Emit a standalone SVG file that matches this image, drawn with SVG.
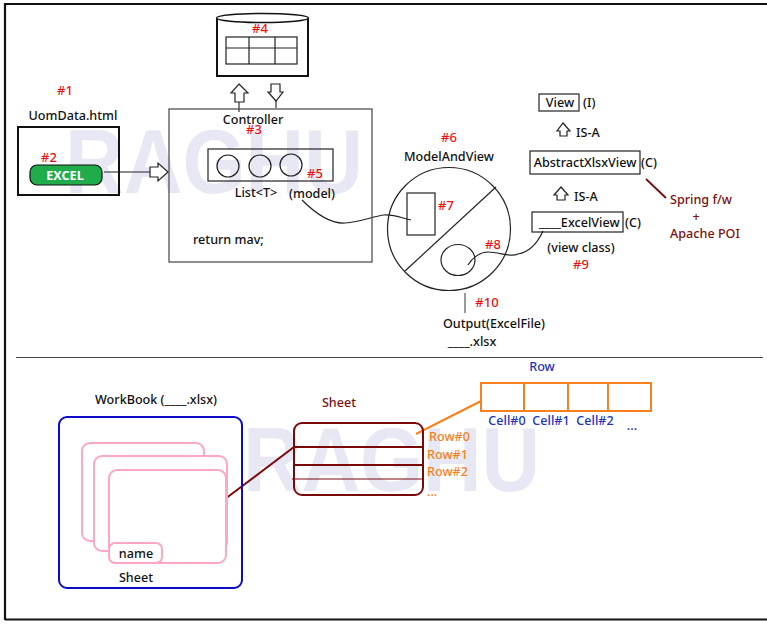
<svg xmlns="http://www.w3.org/2000/svg" width="767" height="625" viewBox="0 0 767 625">
<style>
text{font-family:"Noto Sans","DejaVu Sans",sans-serif;font-size:12.6px;font-weight:500;fill:#111}
.c{text-anchor:middle}
.r{fill:#f01010;font-size:13px}
.m{fill:#7a1010}
.o{fill:#f5801e}
.b{fill:#2233bb}
.wm{font-family:"Liberation Sans",sans-serif;font-size:90px;font-weight:700;fill:#e8e8f5}
.k{fill:none;stroke:#222;stroke-width:1.2}
.s{fill:#fff;stroke:#222;stroke-width:1.2}
.t{fill:none;stroke:#111;stroke-width:2}
.p{fill:#fff;stroke:#ffa6c4;stroke-width:2}
.mr{fill:none;stroke:#7a0a0a;stroke-width:2}
.or{fill:none;stroke:#f8801e;stroke-width:2}
</style>
<rect width="767" height="625" fill="#fff"/>
<g id="frame"><path d="M5 620V4H767M5 619.500H767" fill="none" stroke="#111" stroke-width="2.200"/><path d="M16 357.500H763" stroke="#444" stroke-width="1.200"/></g>
<g id="watermarks"><text class="wm" x="65" y="193" textLength="298" lengthAdjust="spacingAndGlyphs">RAGHU</text><text class="wm" x="243" y="491" textLength="297" lengthAdjust="spacingAndGlyphs">RAGHU</text></g>
<g id="connectors">
<path class="k" d="M302 200C315 213 330 224 345 223C360 222 375 216 384 215S402 218 411 220"/>
<path class="k" d="M468 265C472 258 480 252 488 252C500 252 510 258 518 254C530 252 538 242 543 231"/>
<path d="M104 172H150" stroke="#666" stroke-width="1.500"/>
<path class="s" d="M150 167H158V163L168 172L158 181V177H150Z"/>
<path class="s" d="M239 84L248 93H244V102H235V93H231Z"/>
<path d="M239 102V112M276 101V108" stroke="#333" stroke-width="1.200"/>
<path class="s" d="M271 84H280V92H283L276 101L268 92H271Z"/>
<path class="s" d="M563 123L570 131H567V136H560V131H557Z"/>
<path class="s" d="M561 187L568 195H565V200H557V195H554Z"/>
<path d="M646 179L666 198" stroke="#7a0a0a" stroke-width="1.800"/>
<path d="M465 293V313" stroke="#777" stroke-width="1.500"/>
<path class="mr" d="M225 499L294 447"/>
<path class="or" d="M416 434L481 401"/>
</g>
<g id="n1"><text class="r c" x="65" y="95">#1</text><text class="c" x="73" y="120">UomData.html</text></g>
<g id="n2"><rect x="18" y="127" width="101" height="68" fill="none" stroke="#111" stroke-width="2"/><rect x="30" y="165" width="72" height="20" rx="7" fill="#20ac4b" stroke="#111" stroke-width="1.200"/><text class="c" x="65" y="180" style="fill:#fff;font-weight:700">EXCEL</text><text class="r c" x="49" y="162">#2</text></g>
<g id="n3"><rect x="169" y="109" width="203" height="153" fill="none" stroke="#444" stroke-width="1.200"/><text class="c" x="253" y="124">Controller</text><text class="r c" x="254" y="134">#3</text><text x="193" y="244">return mav;</text></g>
<g id="n4"><path class="t" d="M217 18V76H308V18"/><ellipse cx="262.500" cy="18" rx="46" ry="4.500" fill="#fff" stroke="#111" stroke-width="1.500"/><rect x="226" y="37" width="71" height="27" class="k"/><path class="k" d="M226 48H297M249 37V64M275 37V64"/><text class="r c" x="260" y="33">#4</text></g>
<g id="n5"><rect x="208" y="149" width="125" height="32" class="k"/><circle class="k" cx="228" cy="166" r="11"/><circle class="k" cx="260" cy="166" r="11"/><circle class="k" cx="291" cy="165" r="11"/><text class="r c" x="315" y="178">#5</text><text class="c" x="256" y="197">List&lt;T&gt;</text><text class="c" x="312" y="198">(model)</text></g>
<g id="n6"><text class="r c" x="449" y="142">#6</text><text class="c" x="449" y="161">ModelAndView</text><circle class="k" cx="449" cy="229" r="61.500"/><path class="k" d="M405 271L496 187"/></g>
<g id="n7"><rect class="k" x="407" y="193" width="28" height="42"/><text class="r c" x="446" y="210">#7</text></g>
<g id="n8"><ellipse class="k" cx="458" cy="260" rx="17" ry="15.500"/><text class="r c" x="493" y="249">#8</text></g>
<g id="n9"><rect class="k" x="532" y="212" width="91" height="20"/><text x="539" y="227">____ExcelView</text><text x="625" y="227">(C)</text><text class="c" x="581" y="252">(view class)</text><text class="r c" x="581" y="269">#9</text></g>
<g id="n10"><text class="r c" x="487" y="307">#10</text><text class="c" x="494" y="328">Output(ExcelFile)</text><text class="c" x="472" y="346">____.xlsx</text></g>
<g id="view"><rect class="k" x="539" y="94" width="40" height="17"/><text class="c" x="560" y="107">View</text><text x="583" y="107">(I)</text><text x="576" y="137">IS-A</text></g>
<g id="abstract"><rect class="k" x="530" y="151" width="110" height="23"/><text class="c" x="585" y="167">AbstractXlsxView</text><text x="641" y="167">(C)</text><text x="574" y="201">IS-A</text></g>
<g id="spring"><text class="m c" x="701" y="204">Spring f/w</text><text class="m c" x="696" y="221">+</text><text class="m c" x="705" y="238">Apache POI</text></g>
<g id="workbook"><text class="c" x="156" y="404">WorkBook (____.xlsx)</text><rect x="59" y="417" width="183" height="171" rx="8" fill="none" stroke="#0b0bc8" stroke-width="2"/>
<rect class="p" x="82" y="443" width="122" height="98" rx="8"/><rect class="p" x="94" y="456" width="133" height="95" rx="8"/><rect class="p" x="109" y="470" width="117" height="93" rx="8"/><rect class="p" x="109" y="543" width="53" height="20" rx="6"/><text class="c" x="136" y="558">name</text><text class="c" x="136" y="582">Sheet</text></g>
<g id="sheet"><text class="m c" x="339" y="407">Sheet</text><rect class="mr" x="294" y="423" width="129" height="72" rx="8"/><path class="mr" d="M294 447H423M294 465H423"/><path d="M292 479H423" stroke="#7a0a0a" stroke-width="1.200"/>
<text class="o" x="429" y="441">Row#0</text><text class="o" x="427" y="459">Row#1</text><text class="o" x="427" y="476">Row#2</text><text class="o" x="427" y="496">...</text></g>
<g id="row"><text class="b c" x="542" y="371">Row</text><rect class="or" x="481" y="383" width="170" height="28"/><path class="or" d="M524 383V411M568 383V411M608 383V411"/>
<text class="b c" x="507" y="425">Cell#0</text><text class="b c" x="551" y="425">Cell#1</text><text class="b c" x="595" y="425">Cell#2</text><text class="b c" x="632" y="430">...</text></g>
</svg>
